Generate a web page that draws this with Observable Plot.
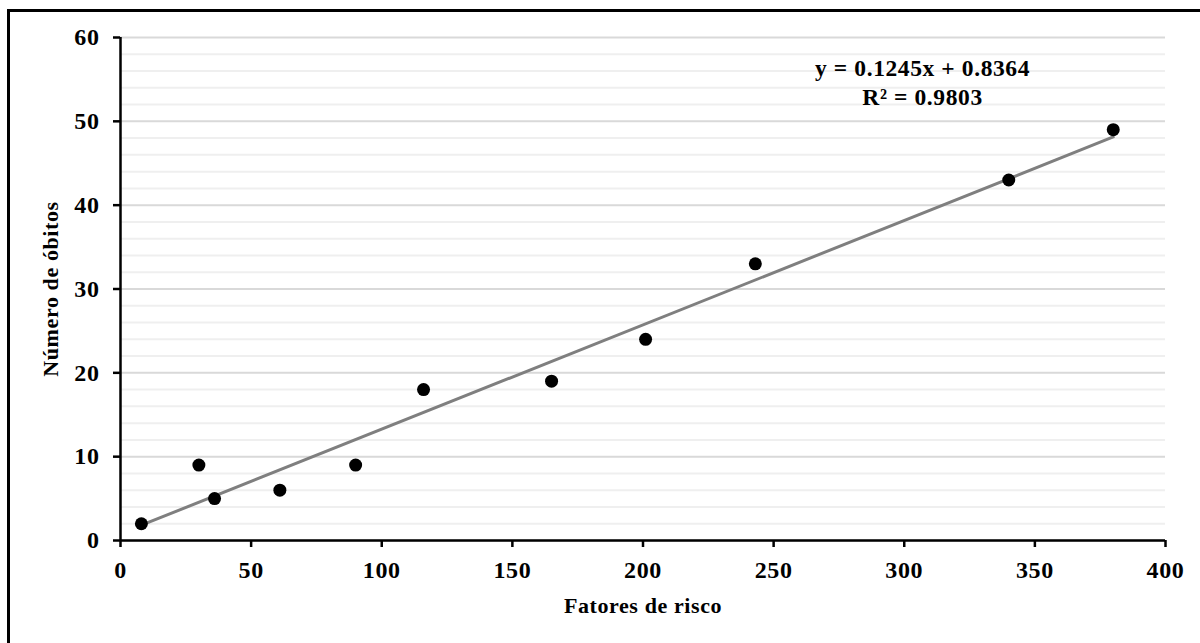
<!DOCTYPE html>
<html>
<head>
<meta charset="utf-8">
<script src="https://cdn.jsdelivr.net/npm/d3@7"></script>
<script src="https://cdn.jsdelivr.net/npm/@observablehq/plot@0.6"></script>
<style>
  html, body { margin: 0; padding: 0; background: #fff; width: 1200px; height: 643px; overflow: hidden; }
  #frame { position: absolute; left: 7px; top: 9px; width: 1300px; height: 800px; border: 3px solid #000; box-sizing: border-box; }
  #chart { position: absolute; left: 0; top: 0; }
  svg { font-family: "Liberation Serif", "Times New Roman", serif; }
  svg text { letter-spacing: 0.6px; }
</style>
</head>
<body>
<div id="frame"></div>
<div id="chart"></div>
<script>
// Data
const fatores = [8, 30, 36, 61, 90, 116, 165, 201, 243, 340, 380];
const obitos  = [2, 9, 5, 6, 9, 18, 19, 24, 33, 43, 49];
const xTicks = [0, 50, 100, 150, 200, 250, 300, 350, 400];
const yTicks = [0, 10, 20, 30, 40, 50, 60];
const yMinor = [2, 4, 6, 8, 12, 14, 16, 18, 22, 24, 26, 28, 32, 34, 36, 38, 42, 44, 46, 48, 52, 54, 56, 58];
const equationLines = ["y = 0.1245x + 0.8364", "R² = 0.9803"];

const data = fatores.map((x, i) => ({x, y: obitos[i]}));
const serif = '"Liberation Serif", "Times New Roman", serif';

const chart = Plot.plot({
  width: 1200,
  height: 643,
  marginLeft: 120,
  marginRight: 35,
  marginTop: 37,
  marginBottom: 103,
  style: {fontFamily: serif, fontWeight: "bold", fontSize: "22px", color: "#000", background: "transparent"},
  x: {domain: [0, 400]},
  y: {domain: [0, 60]},
  marks: [
    Plot.ruleY(yMinor, {stroke: "#efefef", strokeWidth: 2}),
    Plot.ruleY(yTicks, {stroke: "#d9d9d9", strokeWidth: 2}),
    Plot.axisX({ticks: xTicks, tickSize: 7, tickPadding: 13, strokeWidth: 2.5, label: null, fontSize: 24}),
    Plot.axisY({ticks: yTicks, tickSize: 7, tickPadding: 14, strokeWidth: 2.5, label: null, fontSize: 24}),
    Plot.axisX({ticks: [], label: "Fatores de risco", labelArrow: "none", labelAnchor: "center", labelOffset: 72}),
    Plot.axisY({ticks: [], label: "Número de óbitos", labelArrow: "none", labelAnchor: "center", labelOffset: 78}),
    Plot.ruleX([0], {y1: 0, y2: 60, stroke: "#000", strokeWidth: 2.5}),
    Plot.ruleY([0], {x1: 0, x2: 400, stroke: "#000", strokeWidth: 2.5}),
    Plot.linearRegressionY(data, {x: "x", y: "y", ci: 0, stroke: "#7f7f7f", strokeWidth: 3}),
    Plot.dot(data, {x: "x", y: "y", r: 6.5, fill: "#000", stroke: "none"}),
    Plot.text([equationLines.join("\n")], {x: 307, y: 56.2, text: d => d, fontSize: 23.5, fontWeight: "bold", lineHeight: 1.2, textAnchor: "middle", lineAnchor: "top", dy: -13, fill: "#000"})
  ]
});
document.getElementById("chart").appendChild(chart);
</script>
</body>
</html>
